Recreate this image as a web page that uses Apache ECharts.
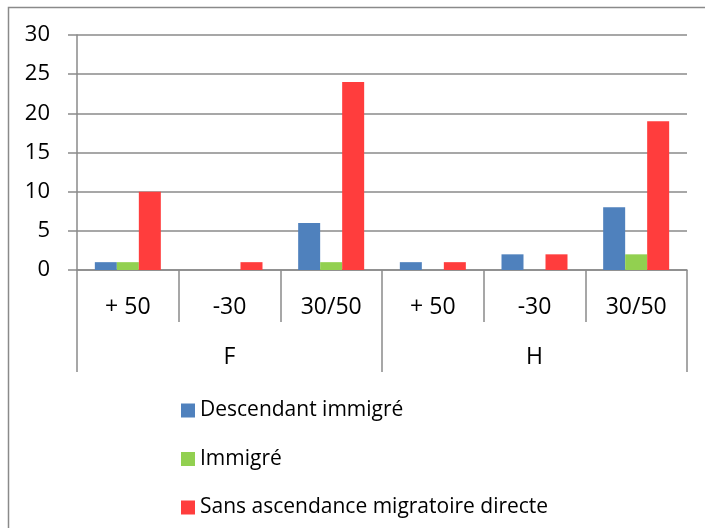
<!DOCTYPE html>
<html>
<head>
<meta charset="utf-8">
<script src="https://cdn.jsdelivr.net/npm/echarts@6/dist/echarts.min.js"></script>
<style>
  html, body { margin: 0; padding: 0; background: #fff; }
  #main { width: 705px; height: 528px; }
</style>
</head>
<body>
<div id="main"></div>
<script>
// données
var categories = ['+ 50', '-30', '30/50', '+ 50', '-30', '30/50'];
var groups = ['F', 'H'];
var descendant = [1, 0, 6, 1, 2, 8];
var immigre = [1, 0, 1, 0, 0, 2];
var sansAscendance = [10, 1, 24, 1, 2, 19];
var yTicks = { min: 0, max: 30, interval: 5 };

var font = '"Open Sans", "Noto Sans", sans-serif';
var gris = '#8a8a8a';

var myChart = echarts.init(document.getElementById('main'), null, { renderer: 'canvas' });

myChart.setOption({
  animation: false,
  textStyle: { fontFamily: font, color: '#000' },
  graphic: [{
    type: 'rect',
    shape: { x: 8.5, y: 7.5, width: 800, height: 700 },
    style: { fill: 'none', stroke: gris, lineWidth: 1.5 },
    silent: true
  }],
  grid: { left: 77, right: 18, top: 35, bottom: 258, containLabel: false },
  legend: {
    orient: 'vertical',
    left: 181,
    top: 400,
    padding: 0,
    itemWidth: 14,
    itemHeight: 14,
    itemGap: 27.5,
    icon: 'rect',
    textStyle: { fontFamily: font, fontSize: 21, lineHeight: 20, color: '#000' },
    data: ['Descendant immigré', 'Immigré', 'Sans ascendance migratoire directe']
  },
  xAxis: [
    {
      type: 'category',
      data: categories,
      position: 'bottom',
      axisLine: { show: true, lineStyle: { color: gris, width: 1.5 } },
      axisTick: { show: true, interval: 0, length: 52, lineStyle: { color: gris, width: 1.5 } },
      axisLabel: { interval: 0, margin: 25, fontSize: 23, lineHeight: 24, color: '#000', fontFamily: font }
    },
    {
      type: 'category',
      data: groups,
      position: 'bottom',
      axisLine: { show: false },
      axisTick: { show: true, interval: 0, length: 102, lineStyle: { color: gris, width: 1.5 } },
      axisLabel: { interval: 0, margin: 75, fontSize: 23, lineHeight: 24, color: '#000', fontFamily: font }
    }
  ],
  yAxis: {
    type: 'value',
    min: yTicks.min,
    max: yTicks.max,
    interval: yTicks.interval,
    axisLine: { show: true, lineStyle: { color: gris, width: 1.5 } },
    axisTick: { show: true, length: 9, lineStyle: { color: gris, width: 1.5 } },
    axisLabel: { margin: 27, fontSize: 22, color: '#000', fontFamily: font },
    splitLine: { lineStyle: { color: gris, width: 1.5 } }
  },
  series: [
    {
      name: 'Descendant immigré',
      type: 'bar',
      xAxisIndex: 0,
      data: descendant,
      barWidth: 22,
      barGap: '0%',
      itemStyle: { color: '#4F81BD' }
    },
    {
      name: 'Immigré',
      type: 'bar',
      xAxisIndex: 0,
      data: immigre,
      barWidth: 22,
      barGap: '0%',
      itemStyle: { color: '#92D050' }
    },
    {
      name: 'Sans ascendance migratoire directe',
      type: 'bar',
      xAxisIndex: 0,
      data: sansAscendance,
      barWidth: 22,
      barGap: '0%',
      itemStyle: { color: '#FF3D3D' }
    }
  ]
});
</script>
</body>
</html>
